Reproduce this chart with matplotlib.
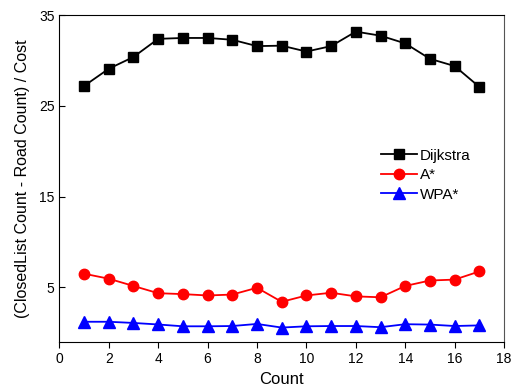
import matplotlib.pyplot as plt

plt.rcParams['font.family'] = ['Liberation Sans', 'DejaVu Sans']

count = list(range(1, 18))
dijkstra = [27.2, 29.1, 30.4, 32.4, 32.5, 32.5, 32.3, 31.6, 31.65, 31.0,
            31.6, 33.2, 32.75, 31.9, 30.2, 29.4, 27.1]
astar = [6.5, 5.95, 5.15, 4.35, 4.25, 4.1, 4.2, 4.95, 3.4, 4.1,
         4.4, 4.0, 3.9, 5.15, 5.75, 5.85, 6.75]
wpastar = [1.2, 1.2, 1.07, 0.9, 0.7, 0.7, 0.73, 0.96, 0.56, 0.7,
           0.73, 0.73, 0.6, 0.93, 0.89, 0.73, 0.8]

fig = plt.figure(figsize=(5.17, 3.88), dpi=100)
ax = fig.add_axes([0.1147, 0.1193, 0.8603, 0.8413])

ax.plot(count, dijkstra, color='black', marker='s', markersize=7, linewidth=1.3, label='Dijkstra')
ax.plot(count, astar, color='red', marker='o', markersize=7.5, linewidth=1.3, label='A*')
ax.plot(count, wpastar, color='blue', marker='^', markersize=8, linewidth=1.3, label='WPA*')

ax.set_xlim(0, 18)
ax.set_ylim(-1, 35)
ax.set_xticks(range(0, 19, 2))
ax.set_yticks([5, 15, 25, 35])
ax.tick_params(axis='x', direction='out', labelsize=10, length=4)
ax.tick_params(axis='y', direction='in', labelsize=10, length=4)
ax.spines['right'].set_color('#555555')

ax.set_xlabel('Count', fontsize=12)
ax.set_ylabel('(ClosedList Count - Road Count) / Cost', fontsize=11.5, labelpad=6)

ax.legend(loc='upper left', bbox_to_anchor=(0.705, 0.615), frameon=False, fontsize=11,
          handlelength=2.4, handletextpad=0.2, labelspacing=0.36, borderpad=0)

fig.savefig('out.png', dpi=100)
